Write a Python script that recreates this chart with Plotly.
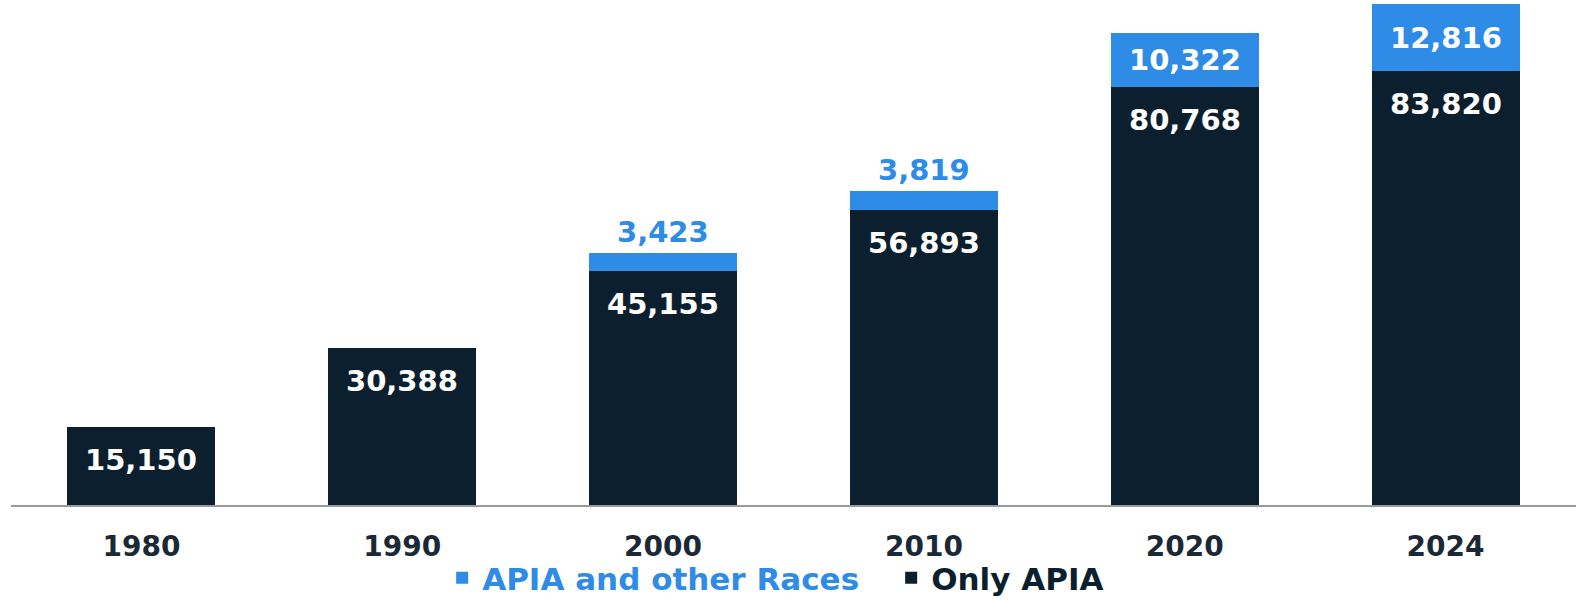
import plotly.graph_objects as go

years = ["1980", "1990", "2000", "2010", "2020", "2024"]
only_apia = [15150, 30388, 45155, 56893, 80768, 83820]
apia_other = [None, None, 3423, 3819, 10322, 12816]

DARK = "#0c1f2e"
BLUE = "#2e8be6"
FONT = "DejaVu Sans, sans-serif"

fig = go.Figure()
fig.add_trace(go.Bar(
    x=years, y=only_apia, name=f"<span style='color:{DARK}'>Only APIA</span>",
    marker=dict(color=DARK, line=dict(width=0)), hoverinfo="skip",
))
fig.add_trace(go.Bar(
    x=years, y=[v if v is not None else 0 for v in apia_other],
    name=f"<span style='color:{BLUE}'>APIA and other Races</span>",
    marker=dict(color=BLUE, line=dict(width=0)), hoverinfo="skip",
))

annotations = []
for i, (yr, o, b) in enumerate(zip(years, only_apia, apia_other)):
    annotations.append(dict(
        x=i, y=o, xref="x", yref="y", text=f"{o:,}", showarrow=False,
        yanchor="middle", yshift=-33,
        font=dict(family=FONT, size=29, color="white", weight=700),
    ))
    if b is not None:
        if b < 5000:
            annotations.append(dict(
                x=i, y=o + b, xref="x", yref="y", text=f"{b:,}", showarrow=False,
                yanchor="middle", yshift=21,
                font=dict(family=FONT, size=29, color=BLUE, weight=700),
            ))
        else:
            annotations.append(dict(
                x=i, y=o + b / 2, xref="x", yref="y", text=f"{b:,}", showarrow=False,
                yanchor="middle",
                font=dict(family=FONT, size=29, color="white", weight=700),
            ))

fig.update_layout(
    barmode="stack",
    bargap=0.433,
    width=1576, height=600,
    margin=dict(l=11, r=0, t=0, b=95, autoexpand=False),
    paper_bgcolor="white", plot_bgcolor="white",
    showlegend=True,
    legend=dict(
        orientation="h", x=0.2755, xanchor="left", y=-0.1446, yanchor="middle",
        traceorder="reversed",
        font=dict(family=FONT, size=31, weight=700),
        itemwidth=30, entrywidth=404, entrywidthmode="pixels",
        bgcolor="rgba(0,0,0,0)",
    ),
    annotations=annotations,
    xaxis=dict(
        type="category", range=[-0.5, len(years) - 0.5],
        showline=True, linecolor="#9a9a9a", linewidth=2,
        ticks="outside", ticklen=15, tickcolor="rgba(0,0,0,0)",
        tickfont=dict(family=FONT, size=28, color="#1b2836", weight=700),
        showgrid=False, fixedrange=True,
    ),
    yaxis=dict(visible=False, range=[0, 97500], showgrid=False, zeroline=False),
)

fig.write_html(
    "out.html",
    config={"displayModeBar": False, "staticPlot": True},
    post_script="document.body.style.margin='0';document.body.style.overflow='hidden';",
)
